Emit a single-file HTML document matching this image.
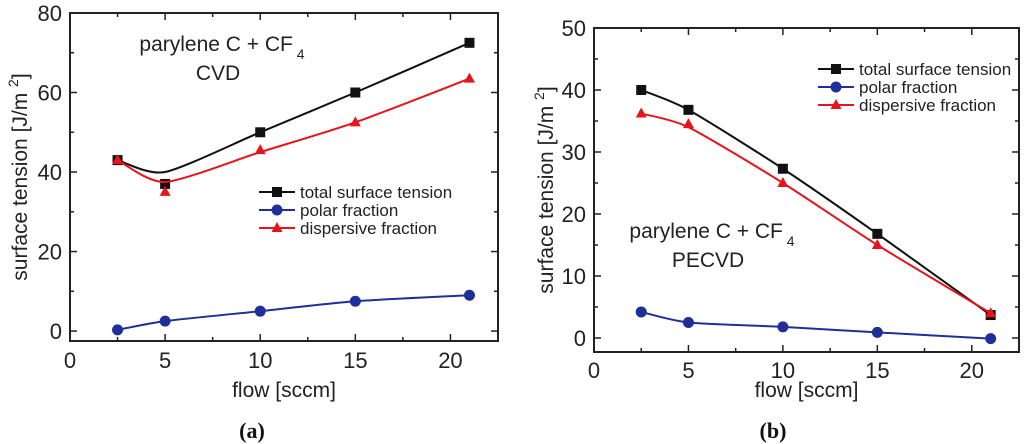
<!DOCTYPE html>
<html><head><meta charset="utf-8"><style>
html,body{margin:0;padding:0;background:#fff;width:1024px;height:444px;overflow:hidden}
svg{display:block;font-family:"Liberation Sans",sans-serif}
</style></head><body>
<svg id="s" width="1024" height="444"></svg>
<script>
const flows=[2.5,5,10,15,21];
const aTotal=[43,37,50,60,72.5];
const aPolar=[0.3,2.5,5,7.5,9];
const aDisp=[43,35,45.5,52.5,63.5];
const aTotalCurve=[43,40,50,60,72.5];
const aDispCurve=[43,37.5,45,52.5,63.5];
const bTotal=[40,36.8,27.3,16.8,3.7];
const bPolar=[4.2,2.5,1.8,0.9,-0.1];
const bDisp=[36.2,34.5,25,15,4];
const bDispCurve=[36.2,34,25,15,4];
const xTicks=[0,5,10,15,20];
const aYTicks=[0,20,40,60,80];
const bYTicks=[0,10,20,30,40,50];
const legendLabels=["total surface tension","polar fraction","dispersive fraction"];
const NS="http://www.w3.org/2000/svg";
const svg=document.getElementById('s');
function el(t,a,p){const e=document.createElementNS(NS,t);for(const k in a)e.setAttribute(k,a[k]);(p||svg).appendChild(e);return e;}
function txt(x,y,s,size,anchor,p,extra){const e=el('text',Object.assign({x:x,y:y,'font-size':size,'text-anchor':anchor||'middle',fill:'#222'},extra||{}),p);e.textContent=s;return e;}
function spline(pts){let d='M'+pts[0][0]+','+pts[0][1];for(let i=0;i<pts.length-1;i++){const p0=pts[Math.max(0,i-1)],p1=pts[i],p2=pts[i+1],p3=pts[Math.min(pts.length-1,i+2)];const t=0.12;d+=' C'+(p1[0]+(p2[0]-p0[0])*t)+','+(p1[1]+(p2[1]-p0[1])*t)+' '+(p2[0]-(p3[0]-p1[0])*t)+','+(p2[1]-(p3[1]-p1[1])*t)+' '+p2[0]+','+p2[1];}return d;}
function marker(g,type,x,y,c,name){let m;
 if(type==='sq')m=el('rect',{x:x-5,y:y-5,width:10,height:10,fill:c},g);
 else if(type==='ci')m=el('circle',{cx:x,cy:y,r:5.5,fill:c},g);
 else m=el('polygon',{points:(x)+','+(y-6)+' '+(x-5.5)+','+(y+4)+' '+(x+5.5)+','+(y+4),fill:c},g);
 
 }
function chart(o){
 const g=el('g',{});
 
 
 const X=v=>o.x0+(v-0)*(o.x1-o.x0)/(22.5-0), Y=v=>o.y1-(v-o.ymin)*(o.y1-o.y0)/(o.ymax-o.ymin);
 for(let v=0;v<=22.5;v+=2.5){const l=v%5===0?7:4;el('line',{x1:X(v),x2:X(v),y1:o.y1,y2:o.y1-l,stroke:'#222','stroke-width':1.5},g);el('line',{x1:X(v),x2:X(v),y1:o.y0,y2:o.y0+l,stroke:'#222','stroke-width':1.5},g);}
 const st=o.yt[1]-o.yt[0];
 for(let v=o.yt[0];v<=o.ymax;v+=st/2){const l=(Math.round(v/st*2)%2===0)?7:4;el('line',{x1:o.x0,x2:o.x0+l,y1:Y(v),y2:Y(v),stroke:'#222','stroke-width':1.5},g);el('line',{x1:o.x1,x2:o.x1-l,y1:Y(v),y2:Y(v),stroke:'#222','stroke-width':1.5},g);}
 const fr=el('rect',{x:o.x0,y:o.y0,width:o.x1-o.x0,height:o.y1-o.y0,fill:'none',stroke:'#222','stroke-width':2},g);
 
 
 xTicks.forEach(v=>{const t=txt(X(v),o.y1+o.xtOff,String(v),22,'middle',g);});
 o.yt.forEach(v=>{const t=txt(o.x0-8,Y(v)+8,String(v),22,'end',g);});
 const xt=txt((o.x0+o.x1)/2,o.xlabY,'flow [sccm]',21,'middle',g);
 
 const yt=el('text',{x:0,y:0,'font-size':21,'text-anchor':'middle',fill:'#222',transform:'translate('+o.ylabX+','+((o.y0+o.y1)/2)+') rotate(-90)'},g);
 yt.innerHTML='surface tension [J/m <tspan dy="-9" font-size="14">2</tspan><tspan dy="9">]</tspan>';
 
 const series=[[o.total,'#111','sq','total',o.totalC],[o.polar,'#1f2f9a','ci','polar',o.polar],[o.disp,'#e8141c','tr','dispersive',o.dispC]];
 series.forEach(s=>{const pts=flows.map((f,i)=>[X(f),Y(s[0][i])]);
  const cpts=flows.map((f,i)=>[X(f),Y(s[4][i])]);
  const p=el('path',{d:spline(cpts),fill:'none',stroke:s[1],'stroke-width':2},g);
  
  pts.forEach(q=>marker(g,s[2],q[0],q[1],s[1],s[3]+'-marker'));});
 const lg=el('g',{},g);
 
 series.forEach((s,i)=>{const y=o.lg[1]+i*18;el('line',{x1:o.lg[0],x2:o.lg[0]+36,y1:y,y2:y,stroke:s[1],'stroke-width':2},lg);marker(lg,s[2],o.lg[0]+18,y,s[1],'legend-marker');
  const t=txt(o.lg[0]+41,y+6,legendLabels[i],17,'start',lg);});
 const an=el('text',{x:o.an[0],y:o.an[1],'font-size':21,'text-anchor':'middle',fill:'#222'},g);
 an.innerHTML='parylene C + CF<tspan dy="8" font-size="14"> 4</tspan>';
 
 const an2=txt(o.an[0]-4,o.an[1]+29,o.proc,21,'middle',g);
 
 const cap=el('text',{x:o.cap,y:438,'font-size':22,'text-anchor':'middle',fill:'#111','font-family':'Liberation Serif, serif','font-weight':'bold'},g);
 cap.textContent=o.capt;
}
chart({name:'chart-a',x0:70,x1:498,y0:13,y1:341,ymin:-2.5,ymax:80,yt:aYTicks,total:aTotal,polar:aPolar,disp:aDisp,totalC:aTotalCurve,dispC:aDispCurve,xtOff:27,xlabY:397,ylabX:27,lg:[259,192],an:[222,51],proc:'CVD',cap:252,capt:'(a)'});
chart({name:'chart-b',x0:594,x1:1019,y0:28,y1:352,ymin:-2.26,ymax:50,yt:bYTicks,total:bTotal,polar:bPolar,disp:bDisp,totalC:bTotal,dispC:bDispCurve,xtOff:26,xlabY:397,ylabX:553,lg:[818,69],an:[712,238],proc:'PECVD',cap:773,capt:'(b)'});
</script>
</body></html>
